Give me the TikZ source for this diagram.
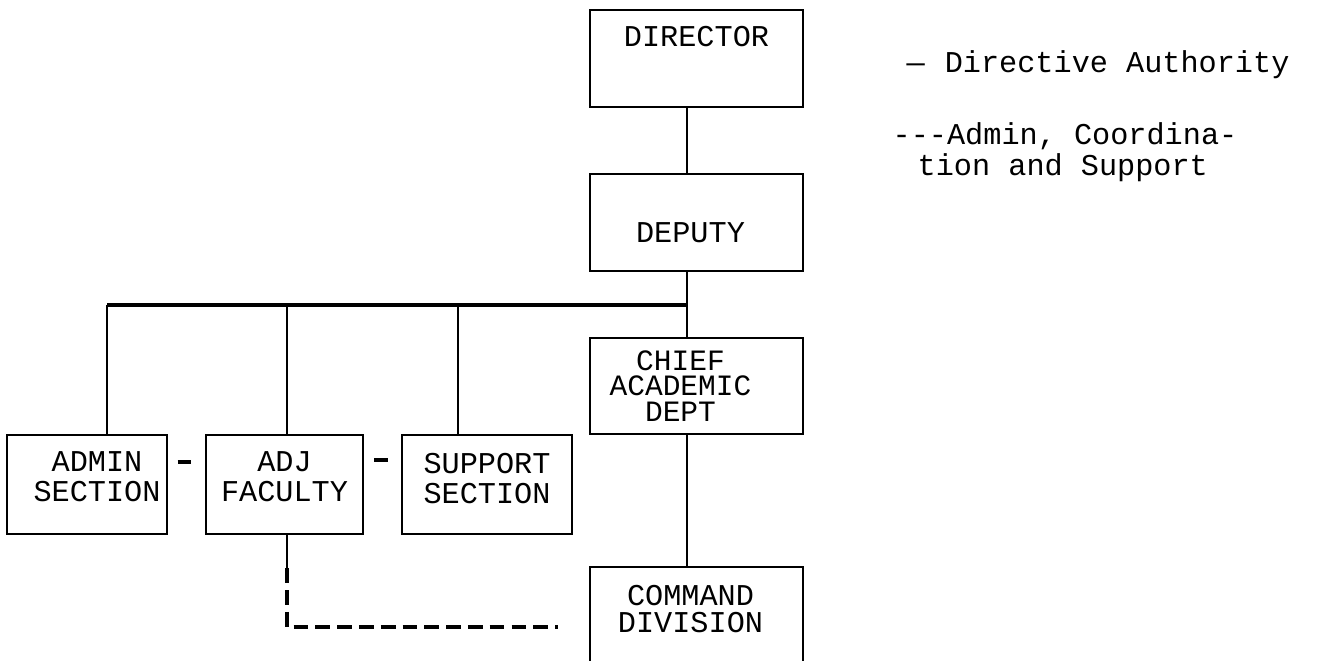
\documentclass[tikz,border=0pt]{standalone}
\usepackage{fontspec}
\setmonofont{Liberation Mono}
\usetikzlibrary{positioning,calc}

\newcommand{\boxfont}{\ttfamily\fontsize{8.6}{8.5}\selectfont}

\begin{document}
\begin{tikzpicture}
  \tikzset{
    unit/.style={draw=black, line width=0.7pt, inner sep=0pt},
    caption/.style={align=center, inner sep=0pt, font=\boxfont},
    link/.style={draw=black, line width=0.6pt},
    bus/.style={draw=black, line width=0.9pt},
    coordline/.style={draw=black, line width=1pt, dash pattern=on 4.2pt off 2pt},
    hyphen/.style={draw=black, line width=1.1pt},
    legend/.style={inner sep=0pt, align=left, font=\boxfont}
  }
  \useasboundingbox (0,0) rectangle (13.27,-6.61);

  % Director and deputy
  \node[unit, minimum width=2.13cm, minimum height=0.97cm,
        label={[caption, yshift=0.215cm]center:DIRECTOR}] (director) at (6.965,-0.585) {};
  \node[unit, minimum width=2.13cm, minimum height=0.97cm,
        label={[caption, yshift=-0.105cm, xshift=-0.06cm]center:DEPUTY}] (deputy) at (6.965,-2.225) {};
  % Chief and command division
  \node[unit, minimum width=2.13cm, minimum height=0.96cm,
        label={[caption, font=\ttfamily\fontsize{8.4}{7.3}\selectfont, xshift=-0.16cm]center:{CHIEF\\ACADEMIC\\DEPT}}] (chief) at (6.965,-3.86) {};
  \node[unit, minimum width=2.13cm, minimum height=1.2cm,
        label={[caption, font=\ttfamily\fontsize{8.6}{7.9}\selectfont, yshift=0.18cm, xshift=-0.06cm]center:{COMMAND\\DIVISION}}] (command) at (6.965,-6.27) {};
  % Lower sections
  \node[unit, minimum width=1.60cm, minimum height=0.99cm,
        label={[caption, yshift=0.075cm, xshift=0.1cm]center:{ADMIN\\SECTION}}] (admin) at (0.87,-4.845) {};
  \node[unit, minimum width=1.57cm, minimum height=0.99cm,
        label={[caption, yshift=0.075cm]center:{ADJ\\FACULTY}}] (adj) at (2.845,-4.845) {};
  \node[unit, minimum width=1.70cm, minimum height=0.99cm,
        label={[caption, yshift=0.06cm]center:{SUPPORT\\SECTION}}] (support) at (4.87,-4.845) {};

  % Directive authority
  \coordinate (spine) at (6.87,-3.05);
  \coordinate (busleft) at (1.07,-3.05);
  \draw[link] (director.south -| spine) -- (deputy.north -| spine);
  \draw[link] (deputy.south -| spine) -- (spine) -- (chief.north -| spine);
  \draw[link] (chief.south -| spine) -- (command.north -| spine);
  \draw[bus] (busleft) -- (spine);
  \foreach \n/\x in {admin/1.07, adj/2.87, support/4.58} {
    \coordinate (tap\n) at (\x,-3.05);
    \draw[link] (tap\n) -- (tap\n |- \n.north);
  }
  \draw[hyphen] ($(admin.east)!0.26!(adj.west)+(0,0.225)$) -- ($(admin.east)!0.62!(adj.west)+(0,0.225)$);
  \draw[hyphen] ($(adj.east)!0.28!(support.west)+(0,0.245)$) -- ($(adj.east)!0.66!(support.west)+(0,0.245)$);

  % Admin, coordination and support
  \draw[link] (adj.south -| tapadj) -- ++(0,-0.33) coordinate (adjdrop);
  \coordinate (cmdlink) at ($(command.west)+(-0.31,0)$);
  \draw[coordline] (adjdrop) -- (adjdrop |- cmdlink) -- (cmdlink);

  % Key
  \node[legend, anchor=base west] (solidkey) at (9.06,-0.73) {—\hspace{0.2cm}Directive Authority};
  \node[legend, anchor=north west, font=\ttfamily\fontsize{8.6}{7.4}\selectfont] (dashkey) at (8.92,-1.22)
    {---Admin, Coordina-\\\hspace*{0.25cm}tion and Support};
\end{tikzpicture}
\end{document}
